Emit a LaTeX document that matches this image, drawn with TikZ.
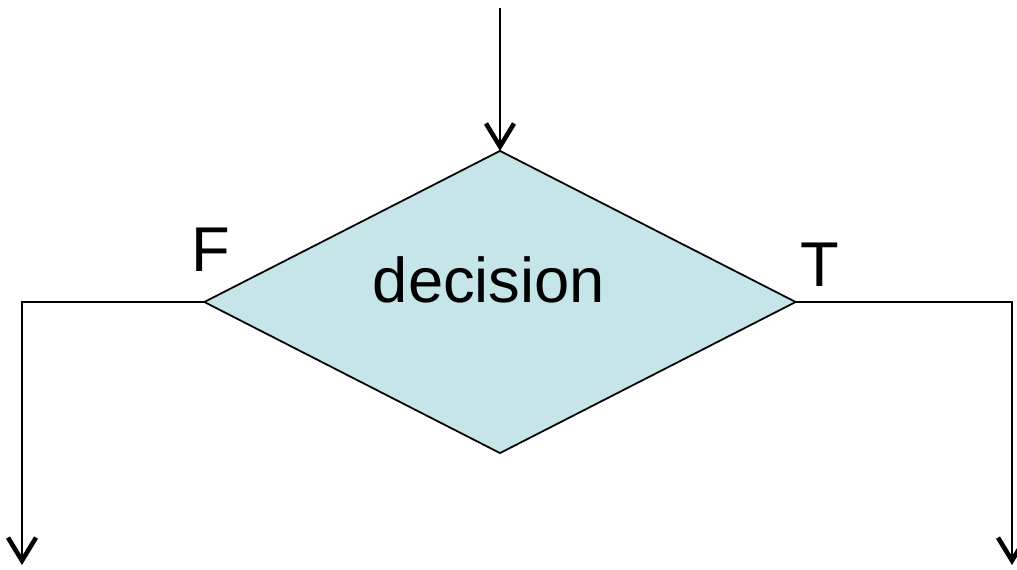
\documentclass[tikz,border=0pt]{standalone}
\usepackage{fontspec}
\setmainfont{Liberation Sans}
\usetikzlibrary{shapes.geometric,arrows.meta}

\definecolor{decfill}{RGB}{197,229,233}

\tikzset{
  decbox/.style={diamond, draw, fill=decfill, line width=0.5pt, inner sep=0pt,
    outer sep=0pt, minimum width=5.91cm, minimum height=3.02cm},
  flow/.style={line width=0.7pt},
  lbl/.style={font=\fontsize{18}{20}\selectfont, inner sep=0pt}
}

\begin{document}
\begin{tikzpicture}[x=0.01cm, y=-0.01cm, >={Straight Barb[length=2.3mm,width=2.8mm,line width=1.3pt]}]

  \useasboundingbox (0,0) rectangle (1017,570);

  % Decision
  \node[decbox] (dec) at (500,302) {};
  \node[lbl, anchor=base] (dectext) at (489,303) {decision};

  % Branch labels
  \node[lbl] (flbl) at (211,250) {F};
  \node[lbl] (tlbl) at (820,265) {T};

  % Ends of the connectors
  \coordinate (in) at (500,8);
  \coordinate (fout) at (22,565);
  \coordinate (tout) at (1012,565);

  % Connectors
  \draw[flow, ->] (in) -- (dec.north);
  \draw[flow, ->] (dec.west) -| (fout);
  \draw[flow, ->] (dec.east) -| (tout);

\end{tikzpicture}
\end{document}
